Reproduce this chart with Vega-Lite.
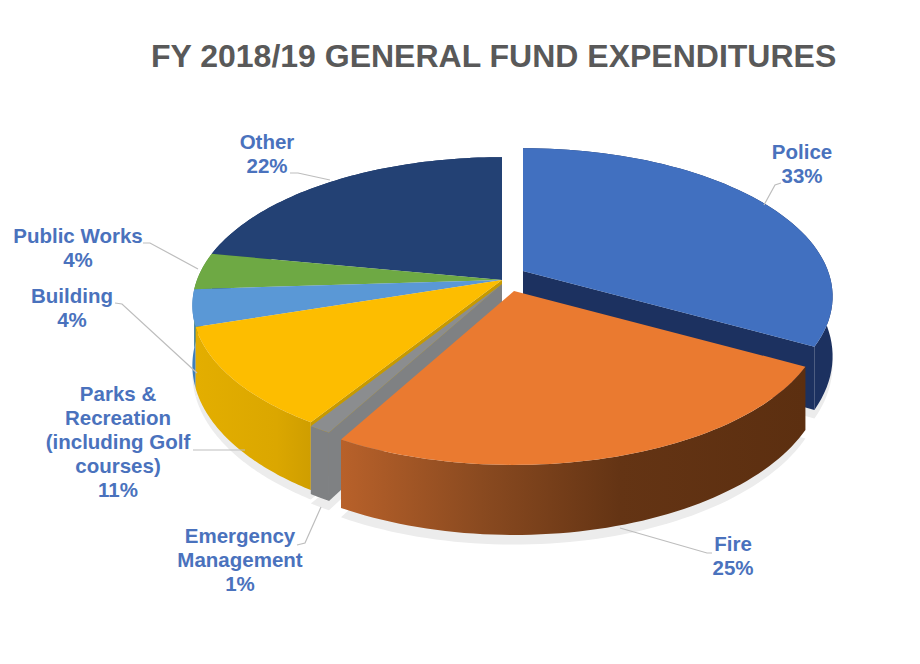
{
  "$schema": "https://vega.github.io/schema/vega-lite/v6.json",
  "width": 920,
  "height": 664,
  "padding": 0,
  "autosize": "none",
  "background": "white",
  "view": {"stroke": null},
  "title": {
    "text": "FY 2018/19 GENERAL FUND EXPENDITURES",
    "anchor": "start", "frame": "group", "orient": "top", "offset": 0,
    "dx": 151, "dy": 99, "baseline": "alphabetic",
    "font": "Liberation Sans", "fontSize": 32, "fontWeight": "bold", "color": "#595959"
  },
  "data": {
    "values": [
      {"slice": "Other", "label": "Other", "share": 22},
      {"slice": "Public Works", "label": "Public Works", "share": 4},
      {"slice": "Building", "label": "Building", "share": 4},
      {"slice": "Parks", "label": "Parks &\nRecreation\n(including Golf\ncourses)", "share": 11},
      {"slice": "Emergency", "label": "Emergency\nManagement", "share": 1},
      {"slice": "Fire", "label": "Fire", "share": 25},
      {"slice": "Police", "label": "Police", "share": 33}
    ]
  },
  "transform": [
    {"window": [{"op": "sum", "field": "share", "as": "running"}], "frame": [null, 0]},
    {"calculate": "2*PI*(1-datum.running/100)", "as": "a0"},
    {"calculate": "datum.a0+2*PI*datum.share/100", "as": "a1"},
    {"calculate": "{Police:[523,271],Fire:[514,291],Emergency:[502,284]}[datum.slice]||[502,280]", "as": "apex"}
  ],
  "encoding": {
    "x": {"type": "quantitative", "field": "px", "axis": null, "scale": {"domain": [0, 920], "range": [0, 920], "nice": false, "zero": false}},
    "y": {"type": "quantitative", "field": "py", "axis": null, "scale": {"domain": [0, 664], "range": [0, 664], "nice": false, "zero": false}}
  },
  "layer": [
    {
      "transform": [{"filter": "datum.slice==='Other'"}],
      "mark": {"type": "rule", "stroke": "#e8e8e8", "strokeWidth": 2},
      "encoding": {
        "x": {"datum": 7, "type": "quantitative"},
        "y": {"datum": 6, "type": "quantitative"},
        "y2": {"datum": 664}
      }
    },
    {
      "transform": [{"filter": "datum.slice==='Other'"}],
      "mark": {"type": "rule", "stroke": "#e8e8e8", "strokeWidth": 2},
      "encoding": {
        "y": {"datum": 7, "type": "quantitative"},
        "x": {"datum": 6, "type": "quantitative"},
        "x2": {"datum": 920}
      }
    },
    {
      "transform": [
        {"calculate": "sequence(0,62)", "as": "i"},
        {"flatten": ["i"]},
        {"calculate": "datum.a0+(datum.a1-datum.a0)*min(datum.i,60)/60", "as": "a"},
        {"calculate": "1+0.172*cos(datum.a)", "as": "d"},
        {"calculate": "datum.apex[0]+(datum.i>60?0:305*sin(datum.a)/datum.d)", "as": "px"},
        {"calculate": "datum.apex[1]+(datum.i>60?66:-144*cos(datum.a)/datum.d+66/datum.d)", "as": "py"}
      ],
      "mark": {"type": "line", "fill": "#ececec", "stroke": null, "strokeWidth": 0},
      "encoding": {"order": {"field": "i", "type": "quantitative"}, "detail": {"field": "slice"}}
    },
    {
      "transform": [
        {"filter": "datum.slice==='Police'"},
        {"calculate": "sequence(0,122)", "as": "i"},
        {"flatten": ["i"]},
        {"calculate": "datum.a0+(datum.a1-datum.a0)*(datum.i<=60?datum.i:121-datum.i)/60", "as": "a"},
        {"calculate": "1+0.172*cos(datum.a)", "as": "d"},
        {"calculate": "datum.apex[0]+305*sin(datum.a)/datum.d", "as": "px"},
        {"calculate": "datum.apex[1]-144*cos(datum.a)/datum.d+(datum.i>60?58/datum.d:0)", "as": "py"}
      ],
      "mark": {"type": "line", "fill": "#1c3160", "stroke": null, "strokeWidth": 0},
      "encoding": {"order": {"field": "i", "type": "quantitative"}, "detail": {"field": "slice"}}
    },
    {
      "transform": [
        {"filter": "datum.slice==='Police'||datum.slice==='Parks'"},
        {"calculate": "sequence(0,4)", "as": "i"},
        {"flatten": ["i"]},
        {"calculate": "datum.slice==='Police'?datum.a1:datum.a0", "as": "a"},
        {"calculate": "1+0.172*cos(datum.a)", "as": "d"},
        {"calculate": "datum.apex[0]+(datum.i===1||datum.i===2?305*sin(datum.a)/datum.d:0)", "as": "px"},
        {"calculate": "datum.apex[1]+(datum.i===1||datum.i===2?-144*cos(datum.a)/datum.d:0)+(datum.i===2?58/datum.d:datum.i===3?58:0)", "as": "py"}
      ],
      "mark": {"type": "line", "stroke": null, "strokeWidth": 0},
      "encoding": {
        "order": {"field": "i", "type": "quantitative"},
        "detail": {"field": "slice"},
        "fill": {"condition": {"test": "datum.slice==='Police'", "value": "#1c3160"}, "value": "#c79a00"}
      }
    },
    {
      "transform": [
        {"filter": "datum.slice!=='Police'&&datum.slice!=='Fire'"},
        {"calculate": "sequence(0,122)", "as": "i"},
        {"flatten": ["i"]},
        {"calculate": "datum.a0+(datum.a1-datum.a0)*(datum.i<=60?datum.i:121-datum.i)/60", "as": "a"},
        {"calculate": "1+0.172*cos(datum.a)", "as": "d"},
        {"calculate": "datum.apex[0]+305*sin(datum.a)/datum.d", "as": "px"},
        {"calculate": "datum.apex[1]-144*cos(datum.a)/datum.d+(datum.i>60?58/datum.d:0)", "as": "py"}
      ],
      "mark": {"type": "line", "stroke": null, "strokeWidth": 0},
      "encoding": {
        "order": {"field": "i", "type": "quantitative"},
        "detail": {"field": "slice"},
        "fill": {
          "condition": [
            {"test": "datum.slice==='Parks'", "value": {"x1": 0, "y1": 0, "x2": 1, "y2": 0, "gradient": "linear", "stops": [{"offset": 0, "color": "#e3ae00"}, {"offset": 0.7, "color": "#dba700"}, {"offset": 1, "color": "#cf9e00"}]}},
            {"test": "datum.slice==='Emergency'", "value": "#7f8183"},
            {"test": "datum.slice==='Building'", "value": "#3f7fbd"},
            {"test": "datum.slice==='Public Works'", "value": "#4f8a30"}
          ],
          "value": "#1d3768"
        }
      }
    },
    {
      "transform": [
        {"filter": "datum.slice==='Emergency'"},
        {"calculate": "sequence(0,4)", "as": "i"},
        {"flatten": ["i"]},
        {"calculate": "datum.a0", "as": "a"},
        {"calculate": "1+0.172*cos(datum.a)", "as": "d"},
        {"calculate": "datum.apex[0]+(datum.i===1||datum.i===2?305*sin(datum.a)/datum.d:0)", "as": "px"},
        {"calculate": "datum.apex[1]+(datum.i===1||datum.i===2?-144*cos(datum.a)/datum.d:0)+(datum.i===2?58/datum.d:datum.i===3?58:0)", "as": "py"}
      ],
      "mark": {"type": "line", "fill": "#7f8183", "stroke": null, "strokeWidth": 0},
      "encoding": {"order": {"field": "i", "type": "quantitative"}, "detail": {"field": "slice"}}
    },
    {
      "transform": [
        {"filter": "datum.slice==='Fire'"},
        {"calculate": "sequence(0,122)", "as": "i"},
        {"flatten": ["i"]},
        {"calculate": "datum.a0+(datum.a1-datum.a0)*(datum.i<=60?datum.i:121-datum.i)/60", "as": "a"},
        {"calculate": "1+0.172*cos(datum.a)", "as": "d"},
        {"calculate": "datum.apex[0]+305*sin(datum.a)/datum.d", "as": "px"},
        {"calculate": "datum.apex[1]-144*cos(datum.a)/datum.d+(datum.i>60?58/datum.d:0)", "as": "py"}
      ],
      "mark": {
        "type": "line", "stroke": null, "strokeWidth": 0,
        "fill": {"x1": 0, "y1": 0, "x2": 1, "y2": 0, "gradient": "linear", "stops": [{"offset": 0, "color": "#b8612a"}, {"offset": 0.3, "color": "#8a4a20"}, {"offset": 0.6, "color": "#643414"}, {"offset": 1, "color": "#5c2f10"}]}
      },
      "encoding": {"order": {"field": "i", "type": "quantitative"}, "detail": {"field": "slice"}}
    },
    {
      "transform": [
        {"calculate": "sequence(0,62)", "as": "i"},
        {"flatten": ["i"]},
        {"calculate": "datum.a0+(datum.a1-datum.a0)*min(datum.i,60)/60", "as": "a"},
        {"calculate": "1+0.172*cos(datum.a)", "as": "d"},
        {"calculate": "datum.apex[0]+(datum.i>60?0:305*sin(datum.a)/datum.d)", "as": "px"},
        {"calculate": "datum.apex[1]+(datum.i>60?0:-144*cos(datum.a)/datum.d)", "as": "py"}
      ],
      "mark": {"type": "line", "stroke": null, "strokeWidth": 0},
      "encoding": {
        "order": {"field": "i", "type": "quantitative"},
        "detail": {"field": "slice"},
        "fill": {
          "field": "slice", "type": "nominal", "legend": null,
          "scale": {
            "domain": ["Police", "Fire", "Emergency", "Parks", "Building", "Public Works", "Other"],
            "range": ["#4170c0", "#ea7a30", "#8b8d8f", "#fdbd00", "#5a98d6", "#6ea944", "#234174"]
          }
        }
      }
    },
    {
      "transform": [
        {"calculate": "{Police:[[764,205],[775,185],[781,183]],Fire:[[620,528],[707,553],[712,553]],Emergency:[[321,507],[305,543],[297,545]],Parks:[[245,450],[193,450],[193,450]],Building:[[197,373],[122,304],[115,303]],'Public Works':[[198,269],[150,243],[143,243]],Other:[[330,180],[298,173],[290,173]]}[datum.slice]", "as": "leader"},
        {"calculate": "sequence(0,3)", "as": "k"},
        {"flatten": ["k"]},
        {"calculate": "datum.leader[datum.k][0]", "as": "px"},
        {"calculate": "datum.leader[datum.k][1]", "as": "py"}
      ],
      "mark": {"type": "line", "stroke": "#bdbdbd", "strokeWidth": 1.2},
      "encoding": {"order": {"field": "k", "type": "quantitative"}, "detail": {"field": "slice"}}
    },
    {
      "transform": [
        {"calculate": "{Police:[802,153],Fire:[733,545],Emergency:[240,537],Parks:[118,395],Building:[72,297],'Public Works':[78,237],Other:[267,143]}[datum.slice]", "as": "at"},
        {"calculate": "datum.at[0]", "as": "px"},
        {"calculate": "datum.at[1]", "as": "py"},
        {"calculate": "datum.label+'\\n'+datum.share+'%'", "as": "caption"}
      ],
      "mark": {"type": "text", "font": "Liberation Sans", "fontSize": 20.5, "fontWeight": "bold", "color": "#4a72bd", "align": "center", "baseline": "middle", "lineBreak": "\n", "lineHeight": 24},
      "encoding": {"text": {"field": "caption"}}
    }
  ]
}
